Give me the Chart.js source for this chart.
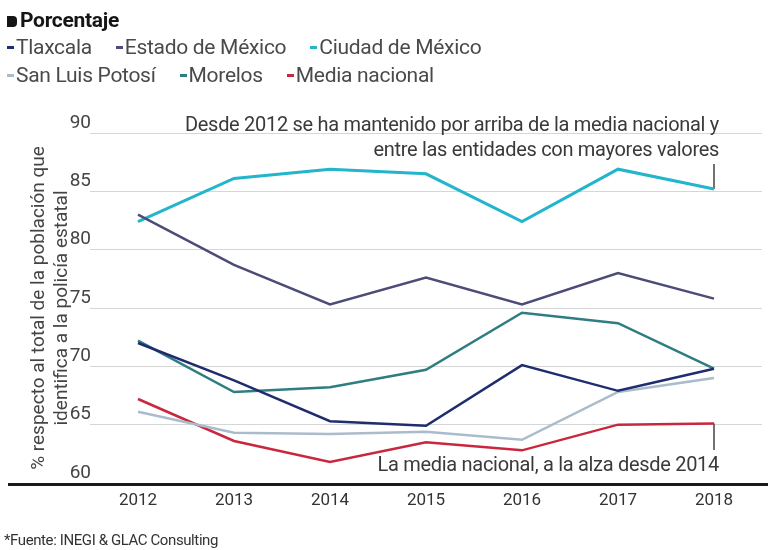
<!DOCTYPE html>
<html>
<head>
  <meta charset="UTF-8">
  <title>Porcentaje - policía estatal</title>
  <script src="https://cdn.jsdelivr.net/npm/chart.js"></script>
  <style>
    body { margin: 0; background: #fff; font-family: Roboto, sans-serif; }
    #lienzo { position: relative; width: 768px; height: 550px; overflow: hidden; }
    #caja { position: absolute; left: 0; top: 0; width: 768px; height: 550px; }
    #encabezado { position: absolute; left: 7px; top: 8px; font-size: 21px; font-weight: 700; color: #151515; letter-spacing: -0.3px; }
    #encabezado span { display: inline-block; width: 10px; height: 11px; background: #151515; border-radius: 0 4px 4px 0; margin-right: 3px; }
    #leyenda { position: absolute; left: 7px; top: 35px; width: 520px; display: flex; flex-wrap: wrap; column-gap: 24px; row-gap: 4px; }
    .item { font-size: 21px; color: #4a4a4a; letter-spacing: -0.3px; line-height: 24px; white-space: nowrap; }
    .item i { display: inline-block; width: 7px; height: 2.5px; vertical-align: middle; margin-right: 2px; position: relative; top: -1px; }
    #fuente { position: absolute; left: 4px; top: 531px; font-size: 15px; color: #333; letter-spacing: -0.4px; }
  </style>
</head>
<body>
<div id="lienzo">
  <div id="caja"><canvas id="grafica"></canvas></div>
  <div id="encabezado"><span></span>Porcentaje</div>
  <div id="leyenda"></div>
  <div id="fuente">*Fuente: INEGI &amp; GLAC Consulting</div>
</div>

<script>
const anios = ['2012', '2013', '2014', '2015', '2016', '2017', '2018'];

const tlaxcala = [72.0, 68.8, 65.3, 64.9, 70.1, 67.9, 69.8];
const edomex   = [83.0, 78.7, 75.3, 77.6, 75.3, 78.0, 75.8];
const cdmx     = [82.4, 86.1, 86.9, 86.5, 82.4, 86.9, 85.2];
const slp      = [66.1, 64.3, 64.2, 64.4, 63.7, 67.8, 69.0];
const morelos  = [72.2, 67.8, 68.2, 69.7, 74.6, 73.7, 69.8];
const media    = [67.2, 63.6, 61.8, 63.5, 62.8, 65.0, 65.1];

const nombres = ['Tlaxcala', 'Estado de México', 'Ciudad de México', 'San Luis Potosí', 'Morelos', 'Media nacional'];
const colores = ['#1f2d6e', '#4d4b78', '#22b5cb', '#aabccb', '#2f7d80', '#c9273d'];
const series  = [tlaxcala, edomex, cdmx, slp, morelos, media];

const tituloY = ['% respecto al total de la población que', 'identifica a la policía estatal'];
const notaCdmx = ['Desde 2012 se ha mantenido por arriba de la media nacional y', 'entre las entidades con mayores valores'];
const notaMedia = 'La media nacional, a la alza desde 2014';

// leyenda en html, dos renglones como el original
const leyenda = document.getElementById('leyenda');
nombres.forEach((n, i) => {
  const d = document.createElement('div');
  d.className = 'item';
  d.innerHTML = '<i style="background:' + colores[i] + '"></i>' + n;
  leyenda.appendChild(d);
});

const notas = {
  id: 'notas',
  beforeDatasetsDraw(chart) {
    const { ctx, scales: { x, y } } = chart;
    const x18 = x.getPixelForValue(anios.length - 1);
    ctx.save();
    ctx.strokeStyle = '#444';
    ctx.lineWidth = 1.5;
    ctx.beginPath();
    ctx.moveTo(x18, y.getPixelForValue(90) + 31);
    ctx.lineTo(x18, y.getPixelForValue(cdmx[cdmx.length - 1]));
    ctx.moveTo(x18, y.getPixelForValue(media[media.length - 1]));
    ctx.lineTo(x18, y.getPixelForValue(60) - 33);
    ctx.stroke();
    ctx.restore();
  },
  afterDatasetsDraw(chart) {
    const { ctx, scales: { x, y } } = chart;
    const x18 = x.getPixelForValue(anios.length - 1);
    ctx.save();
    ctx.font = '20px Roboto';
    ctx.letterSpacing = '-0.3px';
    ctx.fillStyle = '#3a3a3a';
    ctx.textAlign = 'right';
    ctx.textBaseline = 'middle';
    const yTop = y.getPixelForValue(90);
    ctx.fillText(notaCdmx[0], x18 + 5, yTop - 7);
    ctx.fillText(notaCdmx[1], x18 + 5, yTop + 18);
    ctx.fillText(notaMedia, x18 + 5, y.getPixelForValue(60) - 17);

    // linea base gruesa a todo lo ancho
    ctx.strokeStyle = '#1a1a1a';
    ctx.lineWidth = 3;
    ctx.beginPath();
    ctx.moveTo(8, y.bottom + 1.5);
    ctx.lineTo(chart.width, y.bottom + 1.5);
    ctx.stroke();
    ctx.restore();
  }
};

const ctx = document.getElementById('grafica').getContext('2d');
const chart = new Chart(ctx, {
  type: 'line',
  data: {
    labels: anios,
    datasets: series.map((s, i) => ({
      label: nombres[i],
      data: s,
      borderColor: colores[i],
      backgroundColor: colores[i],
      borderWidth: i === 2 ? 3 : 2.5,
      pointRadius: 0,
      tension: 0
    }))
  },
  options: {
    responsive: true,
    maintainAspectRatio: false,
    animation: false,
    layout: { padding: { top: 133, right: 6, bottom: 37, left: 0 } },
    plugins: {
      legend: { display: false },
      tooltip: { enabled: false }
    },
    scales: {
      x: {
        offset: true,
        grid: { display: false, drawTicks: false },
        border: { display: false },
        ticks: { color: '#333', font: { family: 'Roboto', size: 17 }, padding: 8 },
        afterFit: (s) => { s.height = 30; }
      },
      y: {
        min: 60,
        max: 90,
        ticks: { stepSize: 5, color: '#444', font: { family: 'Roboto', size: 19 }, padding: -1, labelOffset: -10 },
        grid: { color: '#d6d6d6', lineWidth: 1, drawTicks: false },
        border: { display: false },
        title: {
          display: true,
          text: tituloY,
          color: '#444',
          font: { family: 'Roboto', size: 19 },
          padding: { top: 28, bottom: 0 }
        },
        afterFit: (s) => { s.width = 90; }
      }
    }
  },
  plugins: [notas]
});
</script>
</body>
</html>
